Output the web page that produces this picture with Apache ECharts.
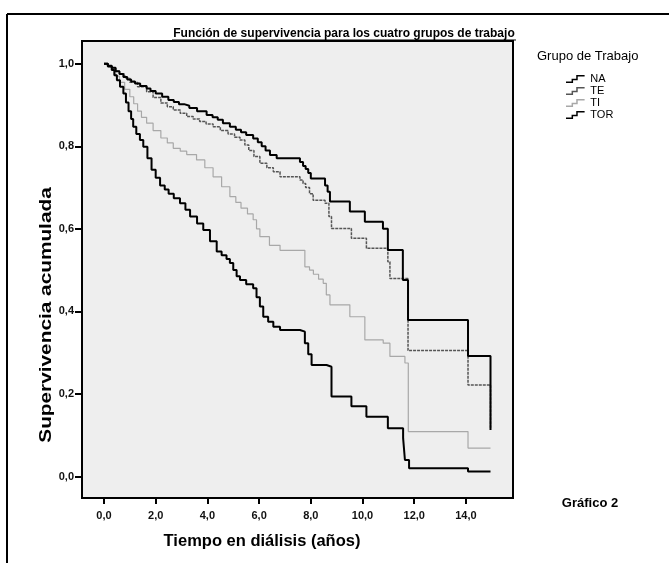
<!DOCTYPE html>
<html><head><meta charset="utf-8">
<script src="https://cdn.jsdelivr.net/npm/echarts@6/dist/echarts.min.js"></script>
<style>html,body{margin:0;padding:0;background:#fff}#c{width:669px;height:563px}</style>
</head><body><div id="c"></div>
<script>
const groups = ['NA', 'TE', 'TI', 'TOR'];
const xTicks = [0, 2, 4, 6, 8, 10, 12, 14];
const yTicks = [0, 0.2, 0.4, 0.6, 0.8, 1.0];

const timeNA = [0, 0.15, 0.3, 0.45, 0.6, 0.75, 0.9, 1.05, 1.2, 1.4, 1.65, 1.8, 2.0, 2.25, 2.49, 2.7, 2.9, 3.1, 3.3, 3.6, 3.97, 4.2, 4.4, 4.6, 4.87, 5.1, 5.3, 5.5, 5.77, 5.95, 6.1, 6.25, 6.42, 6.68, 7.58, 7.7, 7.8, 7.9, 8.0, 8.55, 8.65, 8.74, 9.51, 10.09, 10.79, 10.98, 11.56, 11.76, 14.08, 14.95];
const survNA = [1.0, 0.995, 0.99, 0.982, 0.975, 0.968, 0.962, 0.957, 0.952, 0.946, 0.940, 0.934, 0.928, 0.920, 0.912, 0.907, 0.902, 0.898, 0.893, 0.885, 0.876, 0.870, 0.864, 0.856, 0.847, 0.840, 0.834, 0.827, 0.819, 0.810, 0.800, 0.790, 0.779, 0.771, 0.762, 0.752, 0.745, 0.735, 0.722, 0.705, 0.690, 0.666, 0.642, 0.617, 0.600, 0.549, 0.476, 0.379, 0.292, 0.113];

const timeTE = [0, 0.15, 0.3, 0.45, 0.6, 0.8, 1.0, 1.3, 1.65, 1.9, 2.2, 2.45, 2.68, 2.95, 3.2, 3.45, 3.7, 3.95, 4.22, 4.5, 4.8, 5.05, 5.26, 5.45, 5.6, 5.8, 6.03, 6.3, 6.55, 6.81, 7.58, 7.7, 7.8, 7.95, 8.09, 8.55, 8.7, 8.8, 9.57, 10.15, 10.98, 11.06, 11.76, 14.08, 14.95];
const survTE = [1.0, 0.995, 0.99, 0.982, 0.975, 0.965, 0.955, 0.944, 0.932, 0.918, 0.905, 0.896, 0.888, 0.880, 0.872, 0.866, 0.860, 0.854, 0.847, 0.838, 0.830, 0.822, 0.815, 0.803, 0.790, 0.775, 0.759, 0.748, 0.738, 0.726, 0.718, 0.710, 0.700, 0.685, 0.669, 0.662, 0.630, 0.601, 0.577, 0.553, 0.520, 0.480, 0.305, 0.222, 0.118];

const timeTI = [0, 0.15, 0.3, 0.45, 0.6, 0.8, 1.0, 1.15, 1.3, 1.45, 1.65, 1.9, 2.2, 2.45, 2.68, 2.95, 3.2, 3.58, 3.9, 4.22, 4.55, 4.87, 5.1, 5.3, 5.55, 5.77, 5.9, 6.03, 6.4, 6.81, 7.77, 7.95, 8.1, 8.3, 8.48, 8.6, 8.74, 9.51, 10.09, 10.8, 11.06, 11.64, 11.77, 14.08, 14.95];
const survTI = [1.0, 0.993, 0.985, 0.970, 0.955, 0.938, 0.920, 0.903, 0.885, 0.870, 0.856, 0.838, 0.820, 0.808, 0.795, 0.788, 0.780, 0.767, 0.748, 0.726, 0.702, 0.678, 0.664, 0.650, 0.636, 0.622, 0.600, 0.581, 0.560, 0.548, 0.508, 0.500, 0.490, 0.478, 0.468, 0.440, 0.416, 0.387, 0.331, 0.323, 0.291, 0.275, 0.109, 0.069, 0.069];

const timeTOR = [0, 0.15, 0.3, 0.4, 0.5, 0.62, 0.75, 0.85, 0.95, 1.05, 1.13, 1.25, 1.39, 1.52, 1.68, 1.84, 2.0, 2.17, 2.35, 2.5, 2.7, 2.94, 3.15, 3.33, 3.6, 3.84, 4.1, 4.36, 4.55, 4.74, 4.87, 5.0, 5.13, 5.26, 5.5, 5.77, 5.9, 6.03, 6.16, 6.35, 6.55, 6.81, 7.58, 7.77, 7.9, 8.03, 8.61, 8.8, 9.57, 10.15, 10.98, 11.57, 11.64, 11.8, 14.08, 14.95];
const survTOR = [1.0, 0.993, 0.985, 0.972, 0.960, 0.944, 0.928, 0.906, 0.885, 0.866, 0.847, 0.830, 0.815, 0.799, 0.771, 0.743, 0.724, 0.705, 0.695, 0.685, 0.674, 0.662, 0.646, 0.630, 0.613, 0.597, 0.570, 0.545, 0.536, 0.527, 0.517, 0.500, 0.485, 0.476, 0.466, 0.456, 0.434, 0.412, 0.387, 0.375, 0.363, 0.355, 0.351, 0.323, 0.296, 0.270, 0.266, 0.194, 0.170, 0.145, 0.117, 0.093, 0.040, 0.020, 0.012, 0.012];

const pairs = (t, s) => t.map((v, i) => [v, s[i]]);
const fmt = v => v.toFixed(1).replace('.', ',');
const FONT = 'Liberation Sans, Arial, sans-serif';
const stepIcon = 'path://M0,9 L6,9 L6,6 L11,6 L11,2 L20,2 L20,3.6 L12.6,3.6 L12.6,7.6 L7.6,7.6 L7.6,10.6 L0,10.6 Z';

const chart = echarts.init(document.getElementById('c'), null, {renderer: 'canvas'});
chart.setOption({
  backgroundColor: '#ffffff',
  animation: false,
  grid: {left: 82, top: 41, width: 431, height: 457, show: true, backgroundColor: '#eeeeee', borderColor: '#000', borderWidth: 2},
  xAxis: {
    type: 'value', min: -0.85, max: 15.82,
    axisLine: {show: false, onZero: false},
    splitLine: {show: false},
    axisTick: {show: true, customValues: xTicks, length: 6, lineStyle: {color: '#000', width: 2}},
    axisLabel: {customValues: xTicks, formatter: fmt, margin: 12, fontSize: 11, fontWeight: 'bold', color: '#111', fontFamily: FONT}
  },
  yAxis: {
    type: 'value', min: -0.052, max: 1.055,
    axisLine: {show: false, onZero: false},
    splitLine: {show: false},
    axisTick: {show: true, customValues: yTicks, length: 7, lineStyle: {color: '#000', width: 2}},
    axisLabel: {customValues: yTicks, formatter: fmt, margin: 8, fontSize: 11, fontWeight: 'bold', color: '#111', fontFamily: FONT}
  },
  legend: {
    orient: 'vertical', left: 566, top: 73, itemWidth: 20, itemHeight: 8, itemGap: 0, padding: 0,
    icon: stepIcon,
    data: groups,
    textStyle: {fontSize: 11, color: '#000', fontFamily: FONT, lineHeight: 12}
  },
  series: [
    {name: groups[0], type: 'line', step: 'end', symbol: 'none', data: pairs(timeNA, survNA), lineStyle: {color: '#000', width: 2}, itemStyle: {color: '#000'}, z: 5},
    {name: groups[1], type: 'line', step: 'end', symbol: 'none', data: pairs(timeTE, survTE), lineStyle: {color: '#555', width: 1.5, type: [3, 1]}, itemStyle: {color: '#555'}, z: 4},
    {name: groups[2], type: 'line', step: 'end', symbol: 'none', data: pairs(timeTI, survTI), lineStyle: {color: '#a8a8a8', width: 1.2}, itemStyle: {color: '#a8a8a8'}, z: 3},
    {name: groups[3], type: 'line', step: 'end', symbol: 'none', data: pairs(timeTOR, survTOR), lineStyle: {color: '#000', width: 2}, itemStyle: {color: '#000'}, z: 5}
  ],
  graphic: [
    {type: 'line', shape: {x1: 7, y1: 14, x2: 669, y2: 14}, style: {stroke: '#000', lineWidth: 2}},
    {type: 'line', shape: {x1: 7, y1: 14, x2: 7, y2: 563}, style: {stroke: '#000', lineWidth: 2}},
    {type: 'text', x: 344, y: 34, style: {text: 'Función de supervivencia para los cuatro grupos de trabajo', font: 'bold 12px ' + FONT, fill: '#000', align: 'center', verticalAlign: 'middle'}},
    {type: 'line', shape: {x1: 172, y1: 40, x2: 516, y2: 40}, style: {stroke: '#000', lineWidth: 1}},
    {type: 'text', x: 537, y: 56, style: {text: 'Grupo de Trabajo', font: '13px ' + FONT, fill: '#000', align: 'left', verticalAlign: 'middle'}},
    {type: 'text', x: 47, y: 315, rotation: Math.PI / 2, scaleX: 1.3, style: {text: 'Supervivencia acumulada', font: 'bold 16px ' + FONT, fill: '#000', align: 'center', verticalAlign: 'middle'}},
    {type: 'text', x: 262, y: 541, style: {text: 'Tiempo en diálisis (años)', font: 'bold 16.5px ' + FONT, fill: '#000', align: 'center', verticalAlign: 'middle'}},
    {type: 'text', x: 590, y: 503, style: {text: 'Gráfico 2', font: 'bold 13px ' + FONT, fill: '#000', align: 'center', verticalAlign: 'middle'}}
  ]
});
</script>
</body></html>
